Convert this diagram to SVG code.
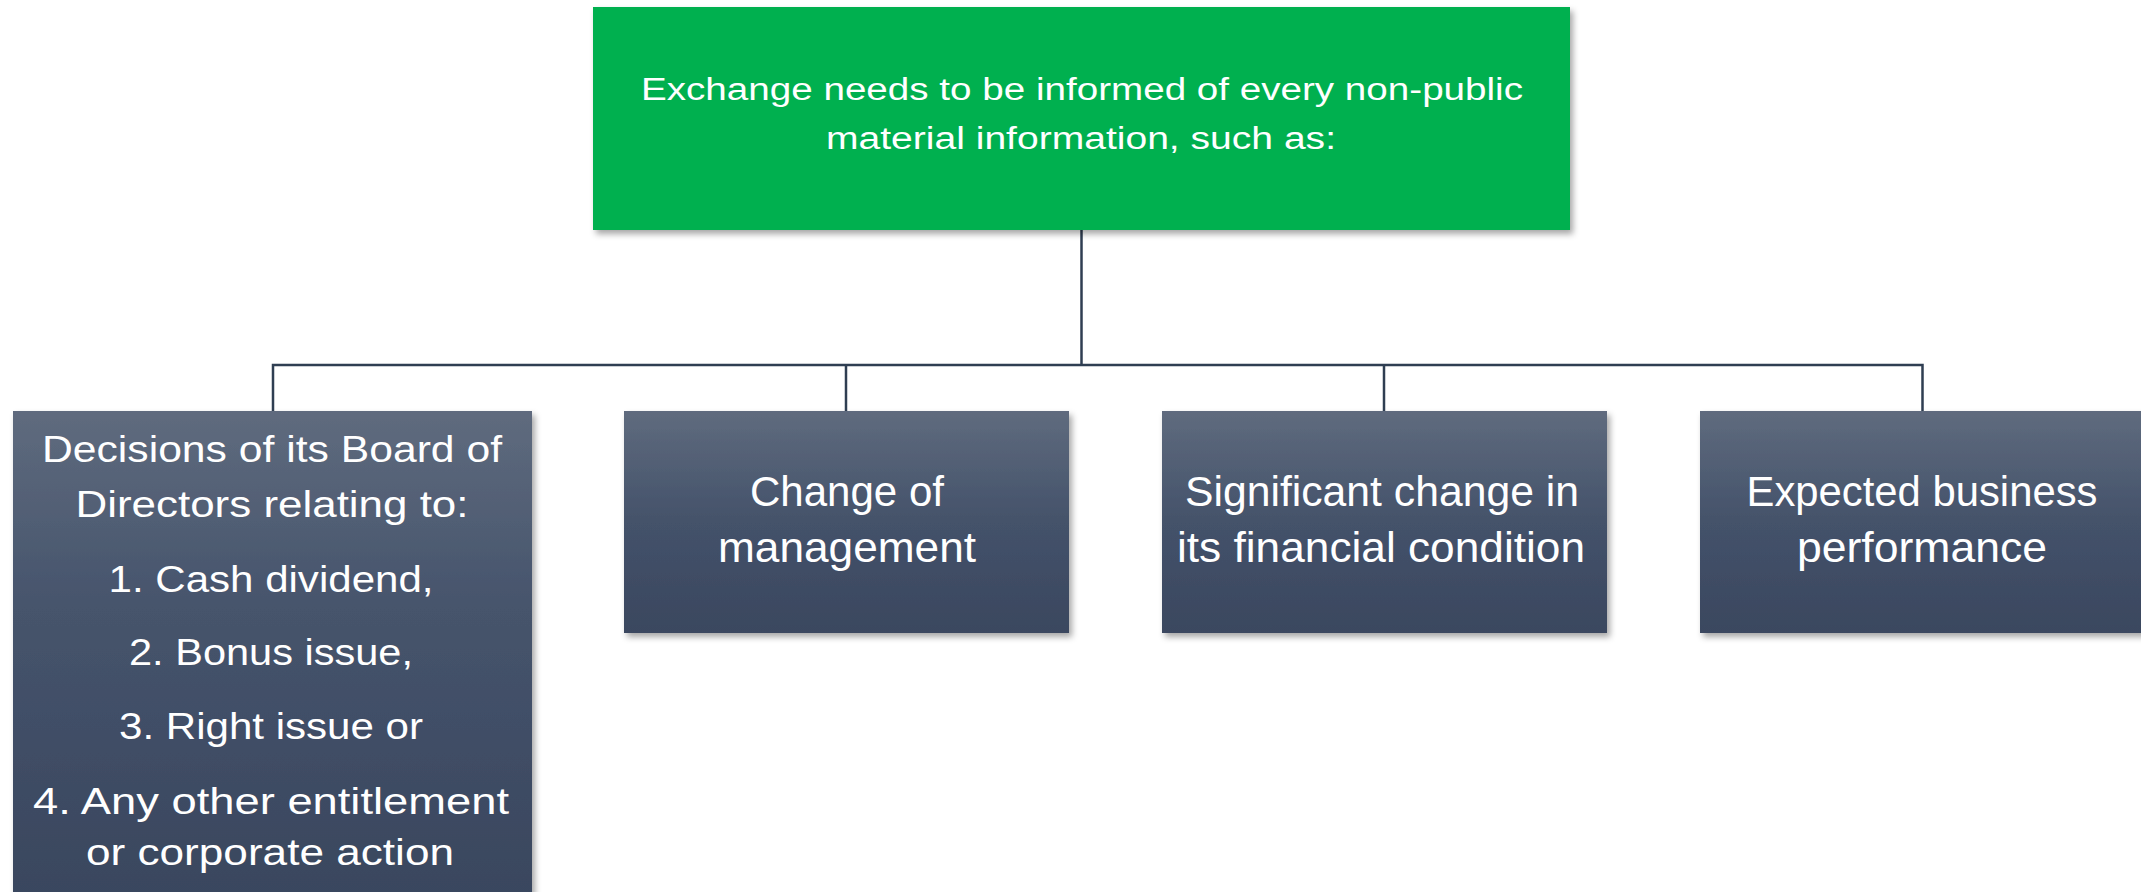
<svg xmlns="http://www.w3.org/2000/svg" width="2141" height="892" viewBox="0 0 2141 892">
<style>
  .t { font-family: "Liberation Sans", Arial, sans-serif; fill: #ffffff; text-anchor: middle; }
  .top { font-size: 31px; }
  .b1 { font-size: 36px; }
  .bx { font-size: 42px; }
  .conn { stroke: #2f3e52; stroke-width: 2.5; fill: none; }
</style>
<defs>
  <linearGradient id="g" x1="0" y1="0" x2="0" y2="1">
    <stop offset="0" stop-color="#5f6b7e"/>
    <stop offset="0.5" stop-color="#44526a"/>
    <stop offset="1" stop-color="#3a475f"/>
  </linearGradient>
  <linearGradient id="g1" gradientUnits="userSpaceOnUse" x1="0" y1="410" x2="0" y2="900">
    <stop offset="0" stop-color="#5f6b7e"/>
    <stop offset="0.4" stop-color="#46546c"/>
    <stop offset="1" stop-color="#39465e"/>
  </linearGradient>
  <filter id="sh" x="-5%" y="-5%" width="115%" height="120%">
    <feDropShadow dx="3" dy="4" stdDeviation="3" flood-color="#000000" flood-opacity="0.35"/>
  </filter>
</defs>
<rect width="2141" height="892" fill="#ffffff"/>
<g id="connectors">
  <line class="conn" x1="1081.5" y1="230" x2="1081.5" y2="365"/>
  <polyline class="conn" points="273,411 273,365 1922.5,365 1922.5,411"/>
  <line class="conn" x1="846" y1="365" x2="846" y2="411"/>
  <line class="conn" x1="1384" y1="365" x2="1384" y2="411"/>
</g>
<g id="node-top">
  <rect x="593" y="7" width="977" height="223" fill="#00b050" filter="url(#sh)"/>
  <text class="t top" x="1082" y="100" textLength="882" lengthAdjust="spacingAndGlyphs">Exchange needs to be informed of every non-public</text>
  <text class="t top" x="1081" y="149" textLength="510" lengthAdjust="spacingAndGlyphs">material information, such as:</text>
</g>
<g id="node-board">
  <rect x="13" y="411" width="519" height="500" fill="url(#g1)" filter="url(#sh)"/>
  <text class="t b1" x="272" y="462" textLength="460" lengthAdjust="spacingAndGlyphs">Decisions of its Board of</text>
  <text class="t b1" x="272" y="517" textLength="393" lengthAdjust="spacingAndGlyphs">Directors relating to:</text>
  <text class="t b1" x="271" y="592" textLength="325" lengthAdjust="spacingAndGlyphs">1. Cash dividend,</text>
  <text class="t b1" x="271" y="665" textLength="284" lengthAdjust="spacingAndGlyphs">2. Bonus issue,</text>
  <text class="t b1" x="271" y="739" textLength="304" lengthAdjust="spacingAndGlyphs">3. Right issue or</text>
  <text class="t b1" x="271" y="814" textLength="476" lengthAdjust="spacingAndGlyphs">4. Any other entitlement</text>
  <text class="t b1" x="270" y="865" textLength="368" lengthAdjust="spacingAndGlyphs">or corporate action</text>
</g>
<g id="node-management">
  <rect x="624" y="411" width="445" height="222" fill="url(#g)" filter="url(#sh)"/>
  <text class="t bx" x="847" y="506" textLength="194" lengthAdjust="spacingAndGlyphs">Change of</text>
  <text class="t bx" x="847" y="562" textLength="258" lengthAdjust="spacingAndGlyphs">management</text>
</g>
<g id="node-financial">
  <rect x="1162" y="411" width="445" height="222" fill="url(#g)" filter="url(#sh)"/>
  <text class="t bx" x="1382" y="506" textLength="394" lengthAdjust="spacingAndGlyphs">Significant change in</text>
  <text class="t bx" x="1381" y="562" textLength="408" lengthAdjust="spacingAndGlyphs">its financial condition</text>
</g>
<g id="node-performance">
  <rect x="1700" y="411" width="445" height="222" fill="url(#g)" filter="url(#sh)"/>
  <text class="t bx" x="1922" y="506" textLength="351" lengthAdjust="spacingAndGlyphs">Expected business</text>
  <text class="t bx" x="1922" y="562" textLength="250" lengthAdjust="spacingAndGlyphs">performance</text>
</g>
</svg>
